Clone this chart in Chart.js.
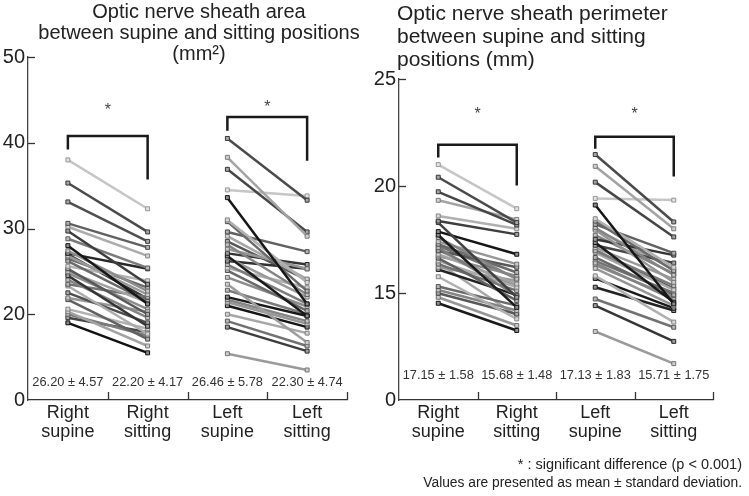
<!DOCTYPE html>
<html>
<head>
<meta charset="utf-8">
<script src="https://cdn.jsdelivr.net/npm/chart.js@4"></script>
<style>
  body { margin: 0; background: #fff; }
  #wrap { position: relative; width: 749px; height: 496px; overflow: hidden; font-family: "Liberation Sans", Arial, sans-serif; color: #222; }
  canvas { position: absolute; top: 0; }
  .title { position: absolute; font-size: 20px; line-height: 21px; white-space: nowrap; }
  #t1 { left: 0; width: 398px; text-align: center; top: 1px; }
  #t2 { left: 397px; text-align: left; top: 1px; font-size: 21px; line-height: 23px; }
  .note { position: absolute; right: 7px; font-size: 14px; white-space: nowrap; }
</style>
</head>
<body>
<div id="wrap">
  <canvas id="areaChart" width="370" height="496" style="left:0"></canvas>
  <canvas id="perimChart" width="379" height="496" style="left:370px"></canvas>
  <div class="title" id="t1">Optic nerve sheath area<br>between supine and sitting positions<br>(mm²)</div>
  <div class="title" id="t2">Optic nerve sheath perimeter<br>between supine and sitting<br>positions (mm)</div>
  <div class="note" style="top:456px; font-size:14.5px">* : significant difference (p &lt; 0.001)</div>
  <div class="note" style="top:475px; font-size:13.8px">Values are presented as mean ± standard deviation.</div>
</div>
<script>
// categories on the x axis
const categories = [['Right', 'supine'], ['Right', 'sitting'], ['Left', 'supine'], ['Left', 'sitting']];

// area (mm²), one entry per subject
const areaRightSupine  = [38.0, 35.3, 33.1, 30.6, 30.2, 29.7, 28.8, 28.0, 27.4, 27.1, 26.8, 26.2, 25.6, 25.3, 25.0, 24.5, 24.0, 23.5, 23.3, 22.5, 21.9, 21.7, 20.6, 20.3, 20.0, 19.6, 19.0, 26.5, 27.0, 24.8];
const areaRightSitting = [32.3, 29.6, 28.5, 27.8, 26.8, 23.5, 25.4, 21.2, 22.7, 25.3, 22.3, 21.5, 23.9, 20.0, 21.4, 18.6, 19.6, 22.0, 17.7, 19.0, 20.3, 17.1, 18.3, 16.3, 17.5, 17.9, 15.5, 23.1, 21.8, 20.6];
const areaLeftSupine   = [40.5, 38.3, 36.9, 34.5, 33.6, 31.0, 30.8, 29.6, 29.1, 28.1, 27.6, 27.1, 26.8, 26.6, 26.2, 25.8, 25.4, 25.1, 23.5, 22.0, 21.7, 21.4, 21.0, 20.0, 19.2, 18.5, 15.4, 28.5, 24.3, 22.8];
const areaLeftSitting  = [33.3, 29.1, 29.6, 33.8, 21.2, 23.7, 22.7, 27.3, 24.1, 22.3, 25.3, 25.8, 19.8, 22.0, 25.3, 21.2, 23.1, 20.4, 16.7, 19.8, 19.2, 18.9, 18.5, 17.8, 16.3, 15.7, 13.5, 24.0, 20.9, 20.0];
const areaMeans = ['26.20 ± 4.57', '22.20 ± 4.17', '26.46 ± 5.78', '22.30 ± 4.74'];
const areaTicks = [10, 20, 30, 40, 50];

// perimeter (mm)
const perimRightSupine  = [21.0, 20.41, 19.73, 19.33, 18.6, 18.36, 18.29, 17.87, 17.71, 17.59, 17.4, 17.28, 17.12, 16.97, 16.81, 16.73, 16.63, 16.5, 16.35, 16.2, 15.76, 15.3, 15.14, 14.99, 14.8, 14.52, 16.1, 17.0, 16.4, 17.2];
const perimRightSitting = [18.94, 18.29, 18.18, 18.44, 18.0, 17.74, 14.8, 16.81, 14.33, 15.65, 16.35, 15.96, 14.87, 16.2, 15.42, 15.8, 14.64, 15.27, 15.11, 15.57, 13.79, 14.41, 14.18, 14.02, 13.48, 13.25, 14.9, 15.3, 13.94, 15.7];
const perimLeftSupine   = [21.47, 20.92, 20.18, 19.42, 19.11, 18.47, 18.36, 18.21, 18.05, 17.94, 17.51, 17.36, 17.23, 17.12, 16.97, 16.89, 16.66, 16.4, 16.15, 15.8, 15.68, 15.27, 14.72, 14.41, 13.2, 17.7, 16.5, 17.0, 18.0, 16.3];
const perimLeftSitting  = [18.32, 18.0, 17.62, 19.34, 14.49, 16.2, 16.04, 16.86, 15.84, 15.5, 16.77, 14.57, 16.4, 15.65, 15.34, 15.15, 14.91, 14.69, 14.41, 13.64, 14.29, 14.18, 13.4, 12.74, 11.7, 15.9, 15.0, 15.2, 16.1, 14.8];
const perimMeans = ['17.15 ± 1.58', '15.68 ± 1.48', '17.13 ± 1.83', '15.71 ± 1.75'];
const perimTicks = [10, 15, 20, 25];

// grey level of each subject's line
const areaRightShade  = [225, 85, 90, 110, 195, 70, 140, 25, 160, 45, 175, 120, 205, 100, 185, 60, 150, 130, 195, 90, 170, 110, 200, 185, 140, 80, 20, 120, 60, 160];
const areaLeftShade   = [85, 185, 80, 225, 25, 200, 120, 110, 190, 150, 170, 60, 30, 175, 55, 140, 200, 120, 180, 30, 150, 170, 25, 190, 130, 70, 175, 100, 160, 140];
const perimRightShade = [225, 85, 80, 185, 200, 70, 75, 25, 30, 150, 170, 120, 140, 100, 185, 160, 110, 195, 130, 175, 200, 120, 150, 100, 170, 30, 40, 160, 190, 130];
const perimLeftShade  = [85, 185, 80, 225, 25, 200, 120, 110, 150, 170, 60, 30, 80, 175, 140, 190, 120, 150, 170, 200, 30, 40, 130, 60, 175, 150, 130, 100, 185, 160];

function grey(g) { g = Math.round(g); return `rgb(${g},${g},${g})`; }

function pairSets(sup, sit, shades, left) {
    return sup.map((v, i) => {
        const g = shades[i] * 0.88; // slightly darker than read, lines are antialiased in the source
        return {
            data: left ? [null, null, v, sit[i]] : [v, sit[i], null, null],
            borderColor: grey(g),
            borderWidth: 2.5,
            pointStyle: 'rect',
            pointRadius: 2.8,
            pointBorderWidth: 1,
            pointBorderColor: grey(g * 0.75),
            pointBackgroundColor: grey(g + (255 - g) * 0.5),
        };
    });
}

// draws inner tick marks, brackets, stars and mean labels
function decor(cfg) {
    return {
        id: 'decor',
        afterDraw(chart) {
            const { ctx, chartArea: a, scales: { x, y } } = chart;
            ctx.save();
            ctx.strokeStyle = '#333';
            ctx.lineWidth = 1.3;
            cfg.ticks.forEach(v => {
                if (v === cfg.ticks[0]) return;
                const py = Math.round(y.getPixelForValue(v)) + 0.5;
                ctx.beginPath(); ctx.moveTo(a.left, py); ctx.lineTo(a.left + 7, py); ctx.stroke();
            });
            for (let i = 0; i < categories.length; i++) {
                const px = Math.round(x.getPixelForValue(i + 0.5)) + 0.5;
                ctx.beginPath(); ctx.moveTo(px, a.bottom); ctx.lineTo(px, a.bottom - 8); ctx.stroke();
            }
            ctx.strokeStyle = '#1a1a1a';
            ctx.lineWidth = 2.5;
            ctx.fillStyle = '#444';
            ctx.textAlign = 'center';
            ctx.textBaseline = 'middle';
            ctx.font = '16px "Liberation Sans", Arial, sans-serif';
            cfg.brackets.forEach(b => {
                const x1 = x.getPixelForValue(b.from), x2 = x.getPixelForValue(b.to);
                const yt = y.getPixelForValue(b.top);
                ctx.beginPath();
                ctx.moveTo(x1, y.getPixelForValue(b.leftEnd));
                ctx.lineTo(x1, yt);
                ctx.lineTo(x2, yt);
                ctx.lineTo(x2, y.getPixelForValue(b.rightEnd));
                ctx.stroke();
                ctx.fillText('*', (x1 + x2) / 2, y.getPixelForValue(b.star));
            });
            ctx.fillStyle = '#333';
            ctx.font = '12.8px "Liberation Sans", Arial, sans-serif';
            cfg.means.forEach((m, i) => ctx.fillText(m, x.getPixelForValue(i), y.getPixelForValue(cfg.meanAt)));
            ctx.restore();
        }
    };
}

function makeChart(id, datasets, cfg) {
    return new Chart(document.getElementById(id), {
        type: 'line',
        data: { labels: categories, datasets: datasets },
        options: {
            responsive: false,
            animation: false,
            layout: { padding: { top: cfg.top, right: cfg.right, bottom: 0, left: 0 } },
            plugins: { legend: { display: false }, tooltip: { enabled: false } },
            scales: {
                x: {
                    offset: true,
                    grid: { display: false, drawTicks: false },
                    border: { color: '#333', width: 1.3 },
                    ticks: {
                        padding: 4,
                        color: '#222',
                        maxRotation: 0,
                        autoSkip: false,
                        font: { family: '"Liberation Sans", Arial, sans-serif', size: 18, lineHeight: 1.05 }
                    },
                    afterFit: s => { s.height = 96; }
                },
                y: {
                    min: cfg.ticks[0],
                    max: cfg.ticks[cfg.ticks.length - 1],
                    afterBuildTicks: s => { s.ticks = cfg.ticks.map(v => ({ value: v })); },
                    grid: { display: false, drawTicks: false },
                    border: { color: '#444', width: 1.3 },
                    ticks: {
                        padding: 3,
                        color: '#222',
                        font: { family: '"Liberation Sans", Arial, sans-serif', size: 20 },
                        callback: v => v === cfg.ticks[0] ? '0' : v
                    },
                    afterFit: s => { s.width = cfg.axisX; }
                }
            }
        },
        plugins: [decor(cfg)]
    });
}

makeChart('areaChart',
    pairSets(areaRightSupine, areaRightSitting, areaRightShade, false)
        .concat(pairSets(areaLeftSupine, areaLeftSitting, areaLeftShade, true)),
    {
        top: 57, right: 23, axisX: 28, ticks: areaTicks, means: areaMeans, meanAt: 12.1,
        brackets: [
            { from: 0, to: 1, top: 40.8, leftEnd: 39.2, rightEnd: 35.7, star: 43.8 },
            { from: 2, to: 3, top: 43.0, leftEnd: 41.4, rightEnd: 37.9, star: 44.1 }
        ]
    });

makeChart('perimChart',
    pairSets(perimRightSupine, perimRightSitting, perimRightShade, false)
        .concat(pairSets(perimLeftSupine, perimLeftSitting, perimLeftShade, true)),
    {
        top: 79, right: 36, axisX: 29, ticks: perimTicks, means: perimMeans, meanAt: 11.14,
        brackets: [
            { from: 0, to: 1, top: 21.93, leftEnd: 21.33, rightEnd: 20.02, star: 23.33 },
            { from: 2, to: 3, top: 22.3, leftEnd: 21.74, rightEnd: 20.44, star: 23.33 }
        ]
    });
</script>
</body>
</html>
